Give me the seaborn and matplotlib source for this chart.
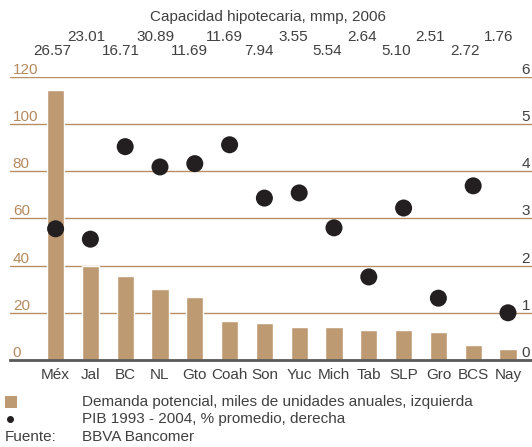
import numpy as np
import pandas as pd
import matplotlib
matplotlib.use("Agg")
import matplotlib.pyplot as plt
import matplotlib.patches as mpatches
from matplotlib.lines import Line2D
import matplotlib.transforms as mtransforms
import seaborn as sns

# Datos
estados = ["Méx", "Jal", "BC", "NL", "Gto", "Coah", "Son", "Yuc", "Mich",
           "Tab", "SLP", "Gro", "BCS", "Nay"]
demanda = [114.4, 40.0, 35.6, 30.1, 26.7, 16.5, 15.8, 14.0, 14.0,
           12.7, 12.7, 11.9, 6.4, 4.7]
pib = [2.78, 2.56, 4.52, 4.09, 4.16, 4.56, 3.43, 3.54, 2.80,
       1.76, 3.22, 1.31, 3.69, 1.00]
capacidad = ["26.57", "23.01", "16.71", "30.89", "11.69", "11.69", "7.94",
             "3.55", "5.54", "2.64", "5.10", "2.51", "2.72", "1.76"]
ticks_izq = [0, 20, 40, 60, 80, 100, 120]
ticks_der = [0, 1, 2, 3, 4, 5, 6]

BAR = "#be9a72"
GRID = "#b98e63"
DOT = "#231f20"
TXT = "#404040"
TICK_IZQ = "#b58a5f"
FS = 11

sns.set_style("white")
plt.rcParams["font.family"] = ["Liberation Sans", "DejaVu Sans"]

W, H = 532, 447
fig = plt.figure(figsize=(W / 100, H / 100), dpi=100)
ax = fig.add_axes([10 / W, (H - 360) / H, (W - 10) / W, 283.2 / H])

df = pd.DataFrame({"estado": estados, "demanda": demanda, "pib": pib})
sns.barplot(data=df, x="estado", y="demanda", color=BAR, saturation=1,
            width=0.49, ax=ax, zorder=2)
ax.set_ylim(0, 120)
ax.set_xlabel("")
ax.set_ylabel("")
ax.set_yticks(ticks_izq)
ax.set_yticklabels([str(t) for t in ticks_izq])
ax.yaxis.grid(True, color=GRID, lw=1.0)
ax.set_axisbelow(True)
ax.tick_params(axis="y", length=0, pad=-2, labelcolor=TICK_IZQ, labelsize=FS)
for lab in ax.get_yticklabels():
    lab.set_horizontalalignment("left")
    lab.set_verticalalignment("bottom")
ax.tick_params(axis="x", length=0, pad=6, labelcolor=TXT, labelsize=FS)
for s in ["top", "left", "right"]:
    ax.spines[s].set_visible(False)
ax.spines["bottom"].set_color("#5a5a5a")
ax.spines["bottom"].set_linewidth(2)

ax2 = ax.twinx()
sns.scatterplot(data=df, x="estado", y="pib", color=DOT, s=150,
                edgecolor="none", ax=ax2, zorder=3)
ax2.set_ylim(0, 6)
ax2.set_ylabel("")
ax2.set_yticks(ticks_der)
ax2.set_yticklabels([str(t) for t in ticks_der])
ax2.tick_params(axis="y", length=0, pad=-1.5, labelcolor=TXT, labelsize=FS)
for lab in ax2.get_yticklabels():
    lab.set_horizontalalignment("right")
    lab.set_verticalalignment("bottom")
for s in ax2.spines.values():
    s.set_visible(False)
ax.set_xlim(-1.31, 13.69)

# Capacidad hipotecaria: dos filas alternadas sobre cada estado
fig.text(268 / W, 1 - 17 / H, "Capacidad hipotecaria, mmp, 2006",
         ha="center", va="center", fontsize=FS, color=TXT)
trans = mtransforms.blended_transform_factory(ax.transData, fig.transFigure)
for i, val in enumerate(capacidad):
    y_px = 37 if i % 2 else 51
    ax.text(i - 0.09 - 0.013 * i, 1 - y_px / H, val, transform=trans,
            ha="center", va="center", fontsize=FS, color=TXT, clip_on=False)

# Leyenda y fuente
fig.add_artist(mpatches.Rectangle((5 / W, 1 - 408 / H), 12 / W, 12 / H,
                                  transform=fig.transFigure, color=BAR, lw=0))
fig.add_artist(Line2D([10 / W], [1 - 419 / H], marker="o", markersize=4,
                      color=DOT, transform=fig.transFigure, lw=0))
fig.text(82 / W, 1 - 402 / H, "Demanda potencial, miles de unidades anuales, izquierda",
         ha="left", va="center", fontsize=FS, color=TXT)
fig.text(82 / W, 1 - 419 / H, "PIB 1993 - 2004, % promedio, derecha",
         ha="left", va="center", fontsize=FS, color=TXT)
fig.text(5 / W, 1 - 437 / H, "Fuente:", ha="left", va="center",
         fontsize=FS, color=TXT)
fig.text(82 / W, 1 - 437 / H, "BBVA Bancomer", ha="left", va="center",
         fontsize=FS, color=TXT)

fig.savefig("out.png", dpi=100)
